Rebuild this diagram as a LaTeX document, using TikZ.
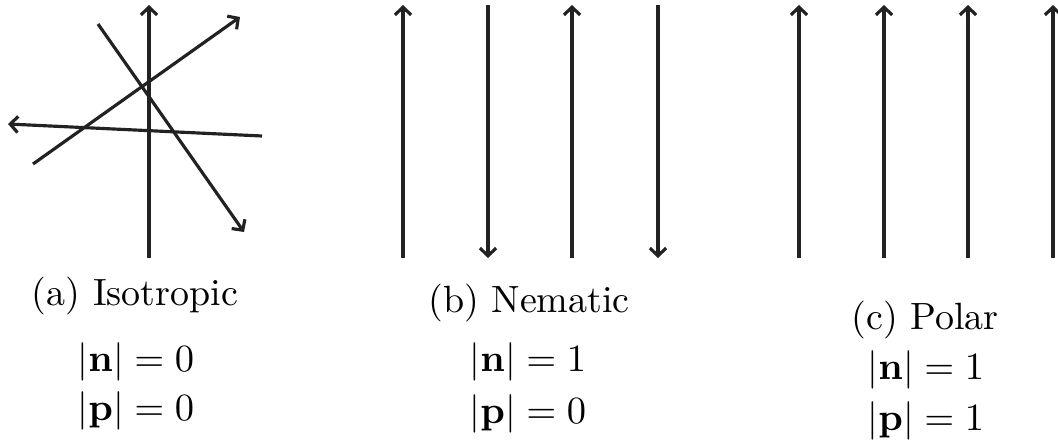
\documentclass[tikz,border=0pt]{standalone}
\usepackage{amsmath,amssymb}
\usepackage{tikz}
\usepackage{xcolor}
\usetikzlibrary{arrows.meta}
\definecolor{VecDark}{HTML}{222222}
\tikzset{
    % Director / polarisation vector
    vecarrow/.style={
        -{Straight Barb[length=2.2pt,width=4.6pt]},
        line width=0.9pt,
        draw=VecDark
    },
    % Caption text
    captext/.style={
        inner sep=0pt,
        font=\fontsize{10.8}{13}\selectfont
    }
}
\begin{document}
\begin{tikzpicture}[x=0.01cm, y=-0.01cm]
        \useasboundingbox (0,0) rectangle (1058,442);

        % Panel (a): Isotropic
        \draw[vecarrow] (149,258) -- (149,5);
        \draw[vecarrow] (33,164) -- (240,17);
        \draw[vecarrow] (98,24) -- (244,232);
        \draw[vecarrow] (262,136) -- (8,124);
        \node[captext] (capa) at (135,296) {(a) Isotropic};
        \node[captext] (na) at (136,362) {$|\mathbf{n}| = 0$};
        \node[captext] (pa) at (136,411) {$|\mathbf{p}| = 0$};

        % Panel (b): Nematic
        \draw[vecarrow] (403,258) -- (403,5);
        \draw[vecarrow] (488,5) -- (488,258);
        \draw[vecarrow] (572,258) -- (572,5);
        \draw[vecarrow] (658,5) -- (658,258);
        \node[captext] (capb) at (529,303) {(b) Nematic};
        \node[captext] (nb) at (528,362) {$|\mathbf{n}| = 1$};
        \node[captext] (pb) at (528,414) {$|\mathbf{p}| = 0$};

        % Panel (c): Polar
        \draw[vecarrow] (799,258) -- (799,5);
        \draw[vecarrow] (884,258) -- (884,5);
        \draw[vecarrow] (968,258) -- (968,5);
        \draw[vecarrow] (1053,258) -- (1053,5);
        \node[captext] (capc) at (925,320) {(c) Polar};
        \node[captext] (nc) at (926,370) {$|\mathbf{n}| = 1$};
        \node[captext] (pc) at (926,421) {$|\mathbf{p}| = 1$};
    \end{tikzpicture}
\end{document}
